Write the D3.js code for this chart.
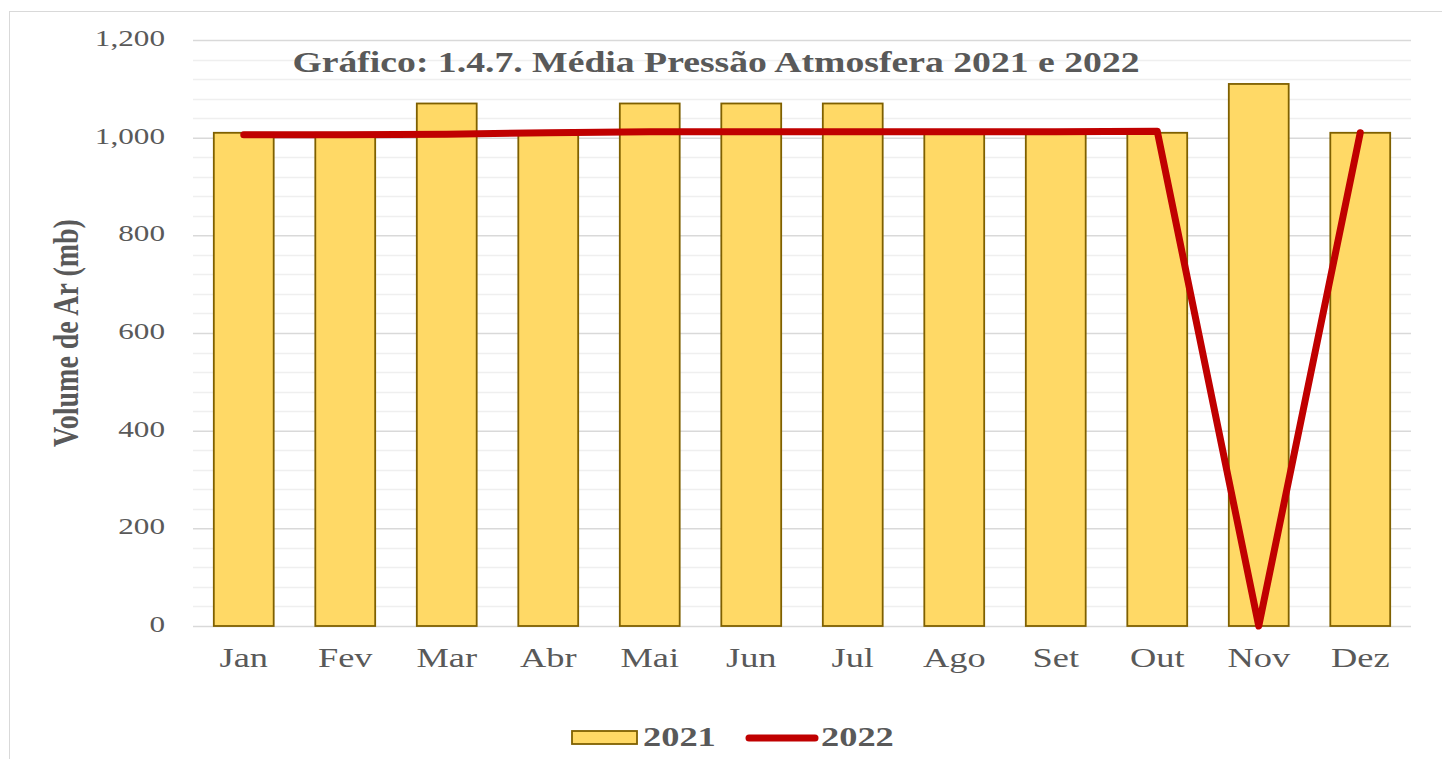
<!DOCTYPE html>
<html>
<head>
<meta charset="utf-8">
<script src="https://cdn.jsdelivr.net/npm/d3@7"></script>
<style>
  body { margin: 0; background: #fff; }
  svg text { font-family: "Liberation Serif", "Times New Roman", serif; fill: #595959; }
</style>
</head>
<body>
<div id="chart"></div>
<script>
// chart values
const months = ['Jan', 'Fev', 'Mar', 'Abr', 'Mai', 'Jun', 'Jul', 'Ago', 'Set', 'Out', 'Nov', 'Dez'];
const values2021 = [1010, 1010, 1070, 1010, 1070, 1070, 1070, 1010, 1010, 1010, 1110, 1010];
const values2022 = [1006, 1006, 1007, 1010, 1012, 1012, 1012, 1012, 1012, 1013, 0, 1010];
const yTicks = [0, 200, 400, 600, 800, 1000, 1200];
const seriesNames = ['2021', '2022'];

const width = 1442;
const height = 759;
const margin = {t: 40, r: 31, b: 133, l: 193};
const SX = 1.3; // horizontal stretch of text, as in the picture

const svg = d3.select('#chart').append('svg')
    .attr('width', width)
    .attr('height', height);

// chart frame
svg.append('rect')
    .attr('x', 9.5).attr('y', 11.5)
    .attr('width', width).attr('height', height)
    .attr('fill', 'none')
    .attr('stroke', '#d9d9d9');

const x = d3.scaleBand()
    .domain(months)
    .range([margin.l, width - margin.r])
    .paddingInner(0.41)
    .paddingOuter(0.205);

const y = d3.scaleLinear()
    .domain([0, 1200])
    .range([height - margin.b, margin.t]);

// stretched text helper
function stretched(g, tx, ty, str) {
    return g.append('text')
        .attr('transform', `translate(${tx},${ty}) scale(${SX},1)`)
        .text(str);
}

// minor gridlines
const minor = d3.range(40, 1200, 40).filter(v => v % 200 !== 0);
svg.append('g').selectAll('line')
    .data(minor)
    .enter().append('line')
    .attr('x1', margin.l).attr('x2', width - margin.r)
    .attr('y1', d => Math.round(y(d)) + 0.5).attr('y2', d => Math.round(y(d)) + 0.5)
    .attr('stroke', '#efefef')
    .attr('stroke-width', 1.5);

// y axis with major gridlines
const yAxis = svg.append('g')
    .attr('transform', `translate(${margin.l},0)`)
    .call(d3.axisLeft(y).tickValues(yTicks).tickSize(-(width - margin.l - margin.r)).tickFormat(d3.format(',')));
yAxis.select('.domain').remove();
yAxis.selectAll('.tick line').attr('stroke', '#d9d9d9').attr('stroke-width', 1.5);
yAxis.selectAll('.tick text').remove();
yAxis.selectAll('.tick').each(function(d) {
    stretched(d3.select(this), -28, 0, d3.format(',')(d))
        .attr('text-anchor', 'end')
        .attr('dominant-baseline', 'middle')
        .style('font-size', '24px');
});

// title
stretched(svg, 716, 72, 'Gráfico: 1.4.7. Média Pressão Atmosfera 2021 e 2022')
    .attr('text-anchor', 'middle')
    .style('font-size', '29px')
    .style('font-weight', 'bold');

// bars 2021
svg.append('g').selectAll('rect')
    .data(values2021)
    .enter().append('rect')
    .attr('x', (d, i) => x(months[i]))
    .attr('y', d => y(d))
    .attr('width', x.bandwidth())
    .attr('height', d => y(0) - y(d))
    .attr('fill', '#ffd966')
    .attr('stroke', '#7f6000')
    .attr('stroke-width', 1.8);

// x axis labels
const xAxis = svg.append('g')
    .attr('transform', `translate(0,${y(0)})`)
    .call(d3.axisBottom(x).tickSize(0));
xAxis.select('.domain').remove();
xAxis.selectAll('.tick text').remove();
xAxis.selectAll('.tick').each(function(d) {
    stretched(d3.select(this), 0, 41, d)
        .attr('text-anchor', 'middle')
        .style('font-size', '28px');
});

// line 2022
const line = d3.line()
    .x((d, i) => x(months[i]) + x.bandwidth() / 2)
    .y(d => y(d));
svg.append('path')
    .datum(values2022)
    .attr('d', line)
    .attr('fill', 'none')
    .attr('stroke', '#c00000')
    .attr('stroke-width', 7)
    .attr('stroke-linejoin', 'round')
    .attr('stroke-linecap', 'round');

// y axis title
svg.append('text')
    .attr('transform', `translate(78,333) scale(${SX},1) rotate(-90)`)
    .attr('text-anchor', 'middle')
    .style('font-size', '28px')
    .style('font-weight', 'bold')
    .text('Volume de Ar (mb)');

// legend
const legend = svg.append('g');
legend.append('rect')
    .attr('x', 572).attr('y', 731)
    .attr('width', 65).attr('height', 13)
    .attr('fill', '#ffd966')
    .attr('stroke', '#7f6000')
    .attr('stroke-width', 1.8);
stretched(legend, 643, 746, seriesNames[0])
    .style('font-size', '28px')
    .style('font-weight', 'bold');
legend.append('line')
    .attr('x1', 749).attr('x2', 815)
    .attr('y1', 738).attr('y2', 738)
    .attr('stroke', '#c00000')
    .attr('stroke-width', 7)
    .attr('stroke-linecap', 'round');
stretched(legend, 821, 746, seriesNames[1])
    .style('font-size', '28px')
    .style('font-weight', 'bold');
</script>
</body>
</html>
